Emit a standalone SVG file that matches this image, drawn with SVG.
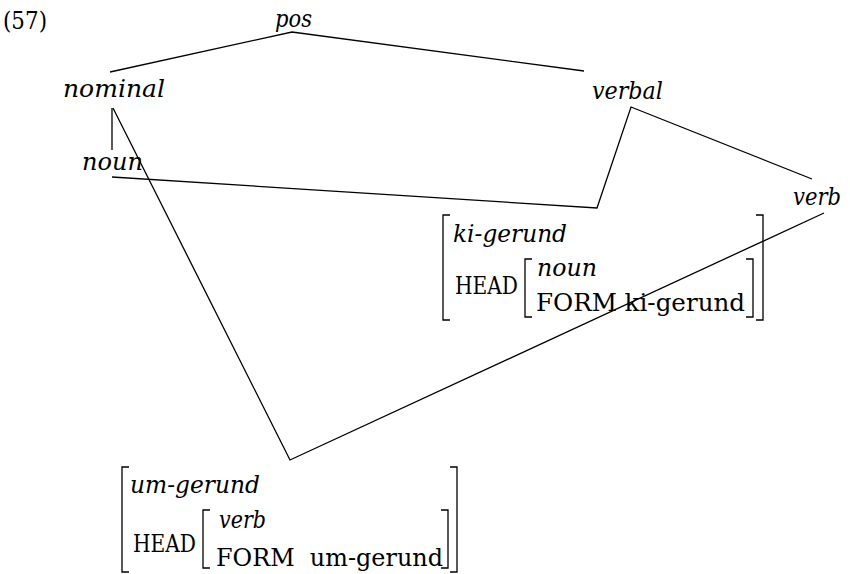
<svg xmlns="http://www.w3.org/2000/svg" width="850" height="574" viewBox="0 0 850 574">
<style>
text{font-family:"DejaVu Serif","Liberation Serif",serif;font-size:24px;fill:#000}
.i{font-style:italic}
.u{font-size:25px}
.ln{fill:none;stroke:#000;stroke-width:1.3}
.br{fill:none;stroke:#000;stroke-width:1.3}
</style>
<rect width="850" height="574" fill="#fff"/>
<text x="3" y="29" font-size="23" textLength="44" lengthAdjust="spacingAndGlyphs">(57)</text>
<g id="connectors" class="ln">
<polyline points="110,72 292,32 584,71"/>
<line x1="112" y1="108" x2="112" y2="150"/>
<polyline points="113,108 290,460 824,213"/>
<polyline points="112,177 597,208 631,107 812,179"/>
</g>
<g id="pos"><text class="i" x="275" y="27" textLength="37" lengthAdjust="spacingAndGlyphs">pos</text></g>
<g id="nominal"><text class="i" x="63" y="97" textLength="102" lengthAdjust="spacingAndGlyphs">nominal</text></g>
<g id="verbal"><text class="i" x="592" y="99" textLength="71" lengthAdjust="spacingAndGlyphs">verbal</text></g>
<g id="noun"><text class="i" x="82" y="170" textLength="61" lengthAdjust="spacingAndGlyphs">noun</text></g>
<g id="verb"><text class="i" x="793" y="205" textLength="48" lengthAdjust="spacingAndGlyphs">verb</text></g>
<g id="ki-gerund">
<path class="br" d="M450,215 H443 V320 H450 M756,215 H763 V320 H756 M532,259 H525 V317 H532 M746,259 H753 V317 H746"/>
<text class="i" x="453" y="242" textLength="114" lengthAdjust="spacingAndGlyphs">ki-gerund</text>
<text class="u" x="455" y="294" textLength="63" lengthAdjust="spacingAndGlyphs">HEAD</text>
<text class="i" x="537" y="276" textLength="60" lengthAdjust="spacingAndGlyphs">noun</text>
<text class="u" x="536" y="311" textLength="209" lengthAdjust="spacingAndGlyphs">FORM ki-gerund</text>
</g>
<g id="um-gerund">
<path class="br" d="M129,467 H122 V572 H129 M450,467 H457 V572 H450 M210,510 H203 V568 H210 M441,510 H448 V568 H441"/>
<text class="i" x="130" y="493" textLength="130" lengthAdjust="spacingAndGlyphs">um-gerund</text>
<text class="u" x="133" y="552" textLength="63" lengthAdjust="spacingAndGlyphs">HEAD</text>
<text class="i" x="219" y="528" textLength="47" lengthAdjust="spacingAndGlyphs">verb</text>
<text class="u" x="216" y="566" textLength="227" lengthAdjust="spacingAndGlyphs" xml:space="preserve">FORM  um-gerund</text>
</g>
</svg>
